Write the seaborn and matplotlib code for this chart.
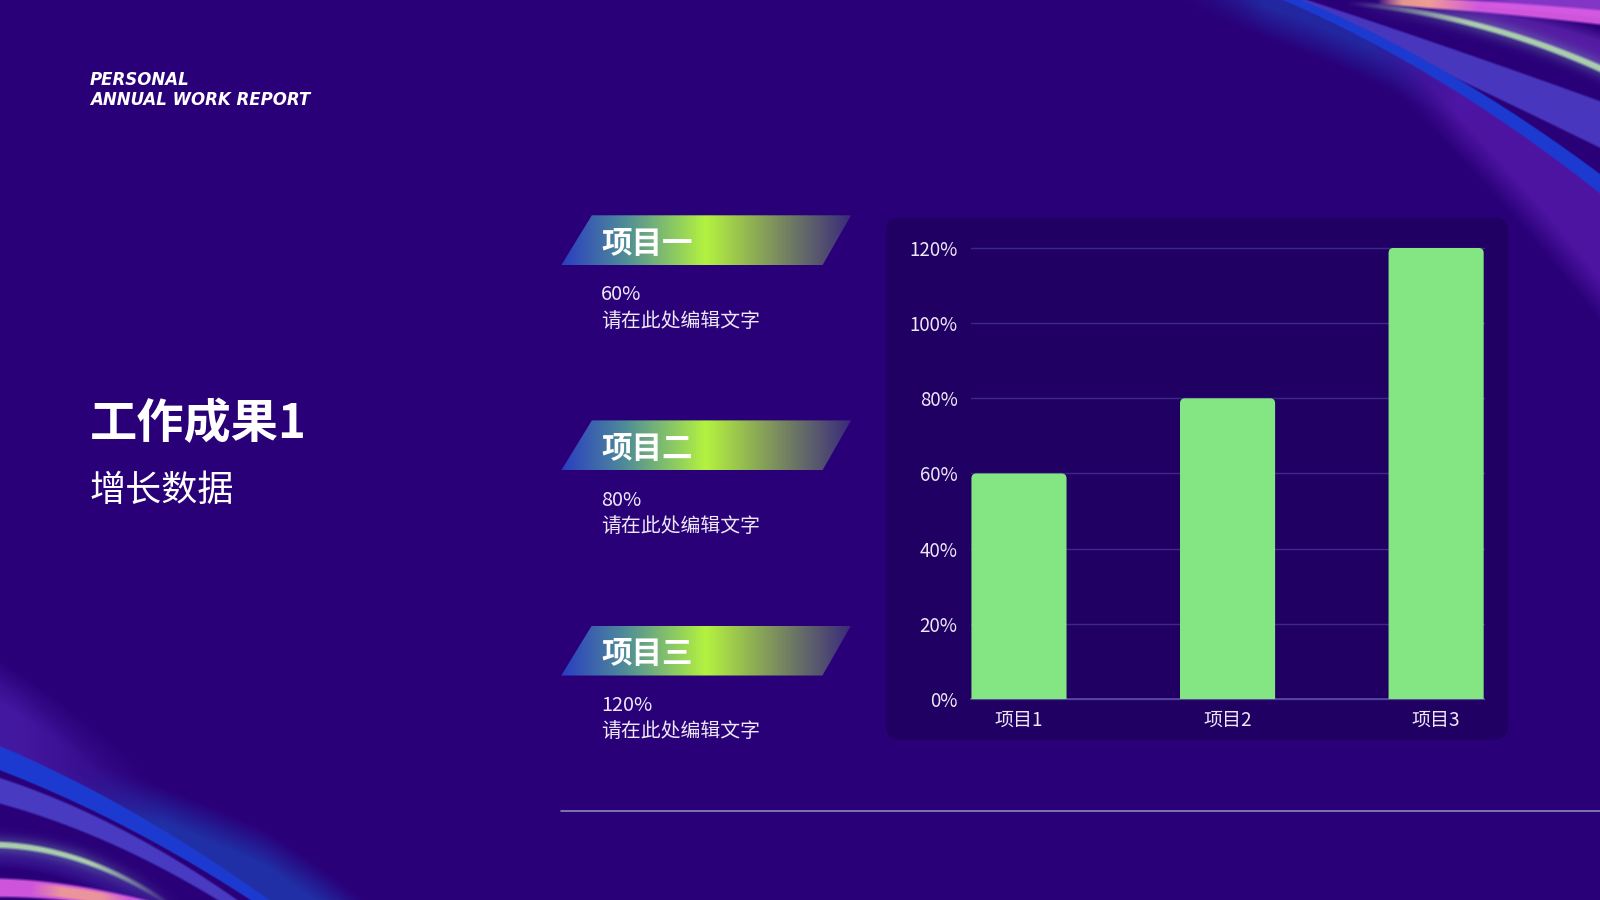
import numpy as np
import pandas as pd
import matplotlib
matplotlib.use("Agg")
import matplotlib.pyplot as plt
import seaborn as sns
from matplotlib.patches import FancyBboxPatch, Polygon
from matplotlib.colors import LinearSegmentedColormap, to_rgb
from matplotlib.ticker import PercentFormatter

# ---------------- data ----------------
categories = ["项目1", "项目2", "项目3"]
values = [0.60, 0.80, 1.20]
y_ticks = [0, 0.2, 0.4, 0.6, 0.8, 1.0, 1.2]
item_titles = ["项目一", "项目二", "项目三"]
item_values = ["60%", "80%", "120%"]
item_desc = ["请在此处编辑文字", "请在此处编辑文字", "请在此处编辑文字"]
header_lines = ["PERSONAL", "ANNUAL WORK REPORT"]
main_title = "工作成果1"
sub_title = "增长数据"

# ---------------- style ----------------
sns.set_theme(style="white")
plt.rcParams['font.family'] = ['Noto Sans CJK SC', 'DejaVu Sans']

BG = "#2a0079"
PANEL = "#210064"
BAR = "#84e683"
TXT = "#ece8f6"
W, H = 1568, 882

fig = plt.figure(figsize=(16, 9), dpi=100)
fig.patch.set_facecolor(BG)

bg = fig.add_axes([0, 0, 1, 1], zorder=-5)
bg.axis('off')

# ---------------- decorative background (raster) ----------------
OW, OH = 1600, 900
XX, YY = np.meshgrid((np.arange(OW) + 0.5) * W / OW, (np.arange(OH) + 0.5) * H / OH)
img = np.ones((OH, OW, 3)) * np.array(to_rgb(BG))


def crv(pts):
    xs, ys = zip(*pts)
    return np.polyfit(xs, ys, 2)


def sdist(c):
    f = np.polyval(c, XX)
    fp = np.polyval(np.polyder(c), XX)
    return (YY - f) / np.sqrt(1 + fp ** 2)


def ramp(x, x0, x1):
    return np.clip((x - x0) / (x1 - x0), 0, 1)


def blend(color, alpha):
    rgb = np.array(to_rgb(color))
    a = np.clip(alpha, 0, 1)[..., None]
    img[:] = img * (1 - a) + rgb * a


def band(c, hw0, hw1, x0, x1, soft=1.5):
    d = sdist(c)
    hw = hw0 + (hw1 - hw0) * ramp(XX, x0, x1)
    return np.clip((hw - np.abs(d)) / soft + 0.5, 0, 1)


def side(c, width0, width1, x0, x1, sign=1, soft=20, edge=2.0):
    d = sdist(c) * sign
    L = width0 + (width1 - width0) * ramp(XX, x0, x1)
    inner = np.clip(d / edge + 0.5, 0, 1)
    return inner * np.clip((L - d) / soft + 0.5, 0, 1)


def glowp(c, sigma):
    d = sdist(c)
    return np.exp(-(d / sigma) ** 2)


TR = ramp(XX, 1150, 1240) * (YY < 420)    # top-right mask
BL = ramp(-XX, -420, -330) * (YY > 600)   # bottom-left mask

# top-right swooshes
c_blue = crv([(1300, 15), (1400, 67), (1568, 180)])
c_lav = crv([(1300, 12), (1400, 52), (1568, 122)])
c_green = crv([(1340, 5), (1467, 30), (1568, 67)])
c_pink = crv([(1367, 1), (1470, 8), (1568, 17)])

blend("#1e3cb4", 0.65 * TR * side(c_blue, 30, 20, 1250, 1420, +1, soft=30) * ramp(-XX, -1460, -1340))
blend("#5418aa", 0.85 * TR * side(c_blue, 8, 90, 1330, 1568, +1, soft=35) * ramp(XX, 1330, 1430))
blend("#6a2ab8", 0.65 * TR * side(c_green, 10, 30, 1350, 1568, -1, soft=12) * ramp(XX, 1360, 1460))
blend("#4b3cc4", 0.92 * TR * band(c_lav, 3, 21, 1260, 1568, soft=2.5))
blend("#1c3ad0", 1.0 * TR * band(c_blue, 3.5, 7.5, 1260, 1568, soft=1.8))
blend("#7aa8b8", 0.35 * TR * glowp(c_green, 9) * ramp(XX, 1330, 1450))
blend("#b4dcb0", 0.9 * TR * band(c_green, 2.2, 3.2, 1330, 1568, soft=3) * ramp(XX, 1320, 1440))
blend("#9a44d8", 0.8 * TR * side(c_pink, 20, 20, 1360, 1568, -1, soft=6) * ramp(XX, 1380, 1480))
blend("#dc5ce4", 0.92 * TR * band(c_pink, 4, 7, 1360, 1568, soft=3) * ramp(XX, 1350, 1400))
blend("#f4aa88", 0.85 * TR * band(c_pink, 4, 7, 1360, 1568, soft=3) * ramp(XX, 1350, 1375) * ramp(-XX, -1450, -1400))

# bottom-left swooshes
b_blue = crv([(0, 743), (130, 805), (255, 882)])
b_lav = crv([(0, 775), (100, 813), (200, 867)])
b_green = crv([(0, 828), (80, 843), (160, 882)])
b_pink = crv([(0, 870), (60, 874), (120, 884)])

blend("#4a1eaa", 0.8 * BL * side(b_blue, 70, 30, 0, 160, -1, soft=40) * ramp(-XX, -170, -20))
blend("#1c44b8", 0.7 * BL * side(b_blue, 15, 45, 80, 260, -1, soft=30) * ramp(XX, 60, 160))
blend("#3a1898", 0.6 * BL * side(b_green, 20, 20, 0, 150, +1, soft=8))
blend("#4b40c8", 0.92 * BL * band(b_lav, 12, 5, 0, 230, soft=2.5))
blend("#1c3ad0", 1.0 * BL * band(b_blue, 11, 5, 0, 260, soft=1.8))
blend("#7aa8b8", 0.35 * BL * glowp(b_green, 9) * ramp(-XX, -180, -80))
blend("#b4dcb0", 0.9 * BL * band(b_green, 3, 2, 0, 160, soft=3) * ramp(-XX, -170, -90))
blend("#dc5ce4", 0.92 * BL * band(b_pink, 9, 7, 0, 120, soft=3))
blend("#f4aa88", 0.75 * BL * band(b_pink, 6, 5, 0, 120, soft=3) * ramp(XX, 30, 60) * ramp(-XX, -130, -100))

bg.imshow(img, extent=(0, W, H, 0), aspect='auto', zorder=0, interpolation='bilinear')

# chart panel
bg.add_patch(FancyBboxPatch((868, 213), 610, 512,
                            boxstyle="round,pad=0,rounding_size=14",
                            facecolor=PANEL, edgecolor='none', zorder=2))

# ribbons with gradient
grad_cmap = LinearSegmentedColormap.from_list(
    "rib", [(0.0, "#2a3cc2"), (0.22, "#4f8c98"), (0.5, "#b4f240"),
            (0.75, "#7a8c5e"), (1.0, "#3a2a7c")])
grad = np.linspace(0, 1, 256)[None, :]
ribbon_tops = [211, 412, 613]
for top, title, val, desc in zip(ribbon_tops, item_titles, item_values, item_desc):
    bot = top + 49
    poly = Polygon([(550, bot), (580, top), (834, top), (806, bot)],
                   closed=True, facecolor='none', edgecolor='none')
    bg.add_patch(poly)
    im = bg.imshow(grad, cmap=grad_cmap, extent=(550, 834, bot, top),
                   aspect='auto', zorder=3, interpolation='bilinear')
    im.set_clip_path(poly)
    bg.text(589, top + 28, title, color='white', fontsize=22, fontweight='bold',
            va='center', ha='left', zorder=4)
    bg.text(589, top + 78, val, color=TXT, fontsize=14.3, va='center', ha='left')
    bg.text(589, top + 104, desc, color=TXT, fontsize=14.3, va='center', ha='left')

# separator line
bg.plot([550, W], [795, 795], color="#8e86bc", lw=1.2)

# left texts
bg.text(88, 78, header_lines[0], color='white', fontsize=12, fontweight='bold',
        fontstyle='italic', family=['DejaVu Sans'], va='center', ha='left')
bg.text(88, 98, header_lines[1], color='white', fontsize=12, fontweight='bold',
        fontstyle='italic', family=['DejaVu Sans'], va='center', ha='left')
bg.text(88, 416, main_title, color='white', fontsize=34, fontweight='bold',
        va='center', ha='left')
bg.text(88, 481, sub_title, color='white', fontsize=26, va='center', ha='left')

bg.set_xlim(0, W)
bg.set_ylim(H, 0)

# ---------------- bar chart ----------------
ax = fig.add_axes([952 / W, 1 - 685 / H, (1454 - 952) / W, (685 - 243) / H], zorder=1)
df = pd.DataFrame({"category": categories, "value": values})
sns.barplot(data=df, x="category", y="value", ax=ax, color=BAR, width=0.456,
            saturation=1, zorder=3)
ax.set_xlim(-0.228, 2.228)
ax.set_ylim(0, 1.2)
ax.set_facecolor('none')
ax.set_yticks(y_ticks)
ax.yaxis.set_major_formatter(PercentFormatter(1.0, decimals=0))
ax.yaxis.grid(True, color="#3b2888", lw=1.0, clip_on=False)
ax.xaxis.grid(False)
ax.set_axisbelow(True)
for s in ['top', 'right', 'left']:
    ax.spines[s].set_visible(False)
ax.spines['bottom'].set_color("#5c4ca4")
ax.spines['bottom'].set_linewidth(1.2)
ax.set_xlabel("")
ax.set_ylabel("")
ax.tick_params(axis='y', length=0, pad=10, labelsize=13.5, labelcolor=TXT)
ax.tick_params(axis='x', length=0, pad=8, labelsize=13.7, labelcolor=TXT)

# rounded tops for bars (derived from seaborn's bars)
fig.canvas.draw()
bb = ax.get_window_extent()
xr = ax.get_xlim()[1] - ax.get_xlim()[0]
yr = ax.get_ylim()[1] - ax.get_ylim()[0]
x_per_px = xr / bb.width
y_per_px = yr / bb.height
r_px = 5
for p in list(ax.patches):
    x, y, w, h = p.get_x(), p.get_y(), p.get_width(), p.get_height()
    fc = p.get_facecolor()
    p.remove()
    rx = r_px * x_per_px
    ry = r_px * y_per_px
    ax.add_patch(FancyBboxPatch((x, y - ry), w, h + ry,
                                boxstyle=f"round,pad=0,rounding_size={rx}",
                                mutation_aspect=y_per_px / x_per_px,
                                facecolor=fc, edgecolor='none', zorder=3))

fig.savefig("out.png", dpi=100, facecolor=BG)
